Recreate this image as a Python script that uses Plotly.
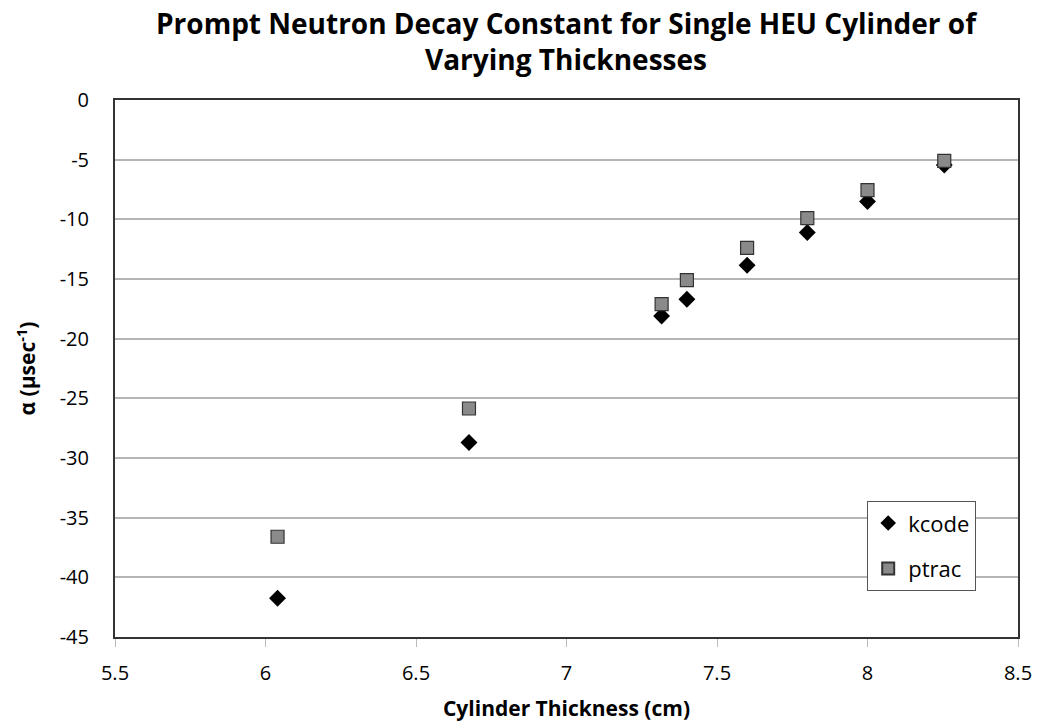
import plotly.graph_objects as go

thickness = [6.04, 6.676, 7.316, 7.40, 7.60, 7.80, 8.00, 8.255]
kcode = [-41.75, -28.7, -18.1, -16.7, -13.85, -11.1, -8.5, -5.45]
ptrac = [-36.6, -25.85, -17.1, -15.1, -12.4, -9.9, -7.55, -5.1]

x_ticks = [5.5, 6, 6.5, 7, 7.5, 8, 8.5]
y_ticks = [0, -5, -10, -15, -20, -25, -30, -35, -40, -45]

FONT = "Open Sans"

fig = go.Figure()
fig.add_trace(go.Scatter(
    x=thickness, y=kcode, mode="markers", name="kcode", legendgroup="a",
    marker=dict(symbol="diamond", size=13, color="black", line=dict(width=0)),
))
fig.add_trace(go.Scatter(
    x=thickness, y=ptrac, mode="markers", name="ptrac", legendgroup="b",
    marker=dict(symbol="square", size=13, color="#8a8a8a",
                line=dict(width=1.2, color="#333333")),
))

fig.add_annotation(
    text="<b>Prompt Neutron Decay Constant for Single HEU Cylinder of<br>Varying Thicknesses</b>",
    xref="paper", yref="paper", x=0.5, y=1.183, xanchor="center", yanchor="top",
    showarrow=False, align="center",
    font=dict(family=FONT, size=28, color="black"),
)

fig.update_layout(
    width=1037, height=724,
    margin=dict(l=115, r=19, t=100, b=87),
    paper_bgcolor="white", plot_bgcolor="white",
    font=dict(family=FONT, color="black"),
    xaxis=dict(
        range=[5.5, 8.5], tickvals=x_ticks, ticktext=[str(v) for v in x_ticks],
        showgrid=False, zeroline=False, automargin=False,
        showline=True, linecolor="#333333", linewidth=2, mirror=True,
        ticks="outside", ticklen=8, tickcolor="#bbbbbb", tickwidth=1,
        ticklabelstandoff=9,
        tickfont=dict(size=20, family=FONT),
        title=dict(text="<b>Cylinder Thickness (cm)</b>", font=dict(size=21, family=FONT), standoff=16),
    ),
    yaxis=dict(
        range=[-45, 0], tickvals=y_ticks, ticktext=[str(v) for v in y_ticks],
        showgrid=True, gridcolor="#b5b5b5", gridwidth=1.5, zeroline=False, automargin=False,
        showline=True, linecolor="#333333", linewidth=2, mirror=True,
        ticks="", tickfont=dict(size=20, family=FONT),
        ticklabelstandoff=20,
        title=dict(text="<b>α (µsec<sup>-1</sup>)</b>", font=dict(size=21, family=FONT), standoff=18),
    ),
    legend=dict(
        x=0.833, y=0.253, xanchor="left", yanchor="top",
        bgcolor="white", bordercolor="#555555", borderwidth=1,
        font=dict(size=22, family=FONT), tracegroupgap=14,
        itemsizing="constant",
    ),
    showlegend=True,
)

fig.write_html("out.html")
